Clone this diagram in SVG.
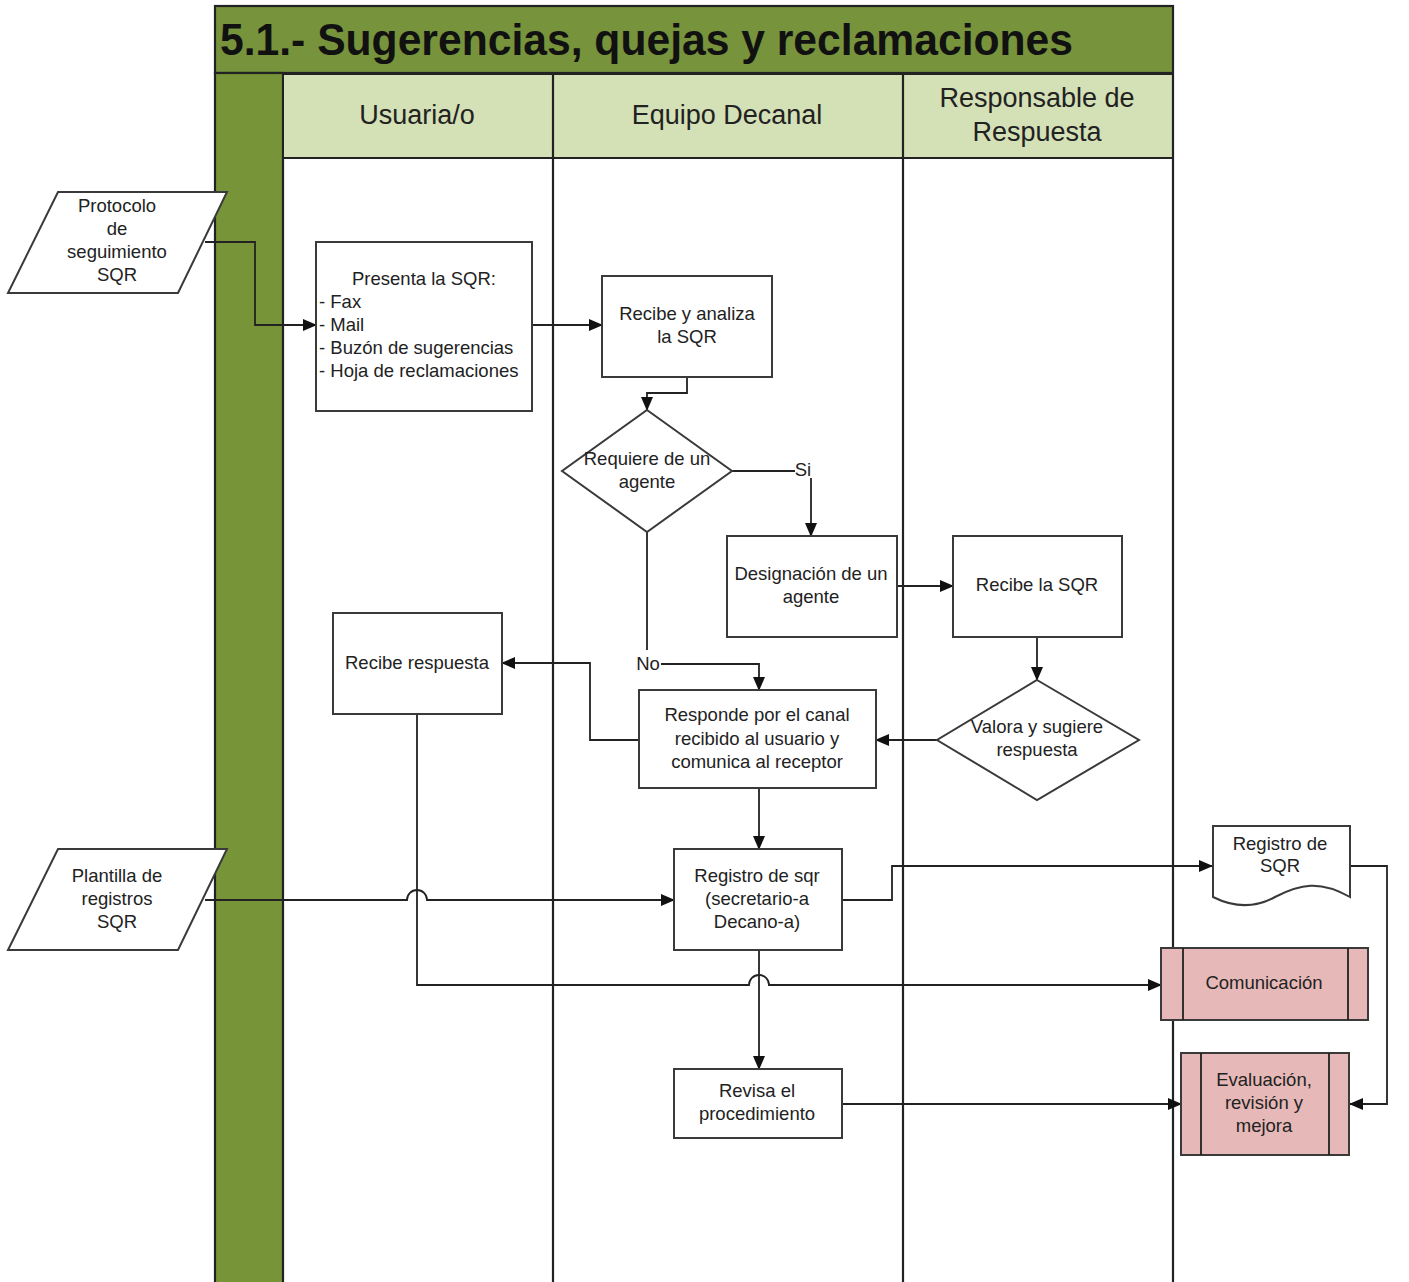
<svg xmlns="http://www.w3.org/2000/svg" width="1409" height="1282" viewBox="0 0 1409 1282">
<style>
  .t{font-family:"Liberation Sans",Arial,sans-serif;font-size:18.5px;fill:#222;text-anchor:middle}
  .tl{font-family:"Liberation Sans",Arial,sans-serif;font-size:18.5px;fill:#222}
  .h{font-family:"Liberation Sans",Arial,sans-serif;font-size:27px;fill:#222;text-anchor:middle}
  .title{font-family:"Liberation Sans",Arial,sans-serif;font-size:45px;font-weight:bold;fill:#111}
  .box{fill:#fff;stroke:#3a3a3a;stroke-width:2}
  .pp{fill:#e6b9b8;stroke:#3a3a3a;stroke-width:2}
  .lane{stroke:#222;stroke-width:2.2;fill:none}
  .c{fill:none;stroke:#222;stroke-width:1.8}
  .ca{fill:none;stroke:#222;stroke-width:1.8;marker-end:url(#arr)}
</style>
<defs>
  <marker id="arr" markerUnits="userSpaceOnUse" markerWidth="14" markerHeight="12" refX="13" refY="6" orient="auto">
    <path d="M0,0 L14,6 L0,12 Z" fill="#111"/>
  </marker>
</defs>
<rect width="1409" height="1282" fill="#fff"/>

<g id="pool">
  <rect x="215" y="6" width="958" height="67" fill="#77933c" stroke="#222" stroke-width="2.2"/>
  <text class="title" x="220" y="55" textLength="853" lengthAdjust="spacingAndGlyphs">5.1.- Sugerencias, quejas y reclamaciones</text>
  <rect x="215" y="73" width="68" height="1215" fill="#779538" stroke="#222" stroke-width="2.2"/>
  <rect x="283" y="74" width="890" height="84" fill="#d4e0b5" stroke="#222" stroke-width="2"/>
  <path class="lane" d="M553,74 V1282 M903,74 V1282 M1173,74 V1282 M283,158 H1173"/>
  <text class="h" x="417" y="124">Usuaria/o</text>
  <text class="h" x="727" y="124">Equipo Decanal</text>
  <text class="h" x="1037" y="107">Responsable de</text>
  <text class="h" x="1037" y="141">Respuesta</text>
</g>

<g id="connectors">
  <path class="ca" d="M205,242 H255 V325 H316"/>
  <path class="ca" d="M532,325 H602"/>
  <path class="ca" d="M687,377 V393 H647 V410"/>
  <path class="c" d="M732,471 H795"/>
  <path class="ca" d="M811,478 V536"/>
  <path class="ca" d="M897,586 H953"/>
  <path class="ca" d="M1037,637 V680"/>
  <path class="ca" d="M937,740 H876"/>
  <path class="c" d="M647,532 V650"/>
  <path class="ca" d="M661,664 H759 V690"/>
  <path class="ca" d="M639,740 H590 V663 H502"/>
  <path class="ca" d="M759,788 V849"/>
  <path class="ca" d="M205,900 H407 A10,10 0 0 1 427,900 H674"/>
  <path class="ca" d="M417,714 V985 H749 A10,10 0 0 1 769,985 H1161"/>
  <path class="ca" d="M842,900 H892 V866 H1212"/>
  <path class="ca" d="M1350,866 H1387 V1104 H1350"/>
  <path class="ca" d="M759,950 V1069"/>
  <path class="ca" d="M842,1104 H1181"/>
</g>

<g id="n-protocolo">
  <polygon class="box" points="8,293 178,293 227,192 58,192"/>
  <text class="t" x="117" y="212">Protocolo</text>
  <text class="t" x="117" y="235">de</text>
  <text class="t" x="117" y="258">seguimiento</text>
  <text class="t" x="117" y="281">SQR</text>
</g>
<g id="n-presenta">
  <rect class="box" x="316" y="242" width="216" height="169"/>
  <text class="t" x="424" y="285">Presenta la SQR:</text>
  <text class="tl" x="319" y="308">- Fax</text>
  <text class="tl" x="319" y="331">- Mail</text>
  <text class="tl" x="319" y="354">- Buzón de sugerencias</text>
  <text class="tl" x="319" y="377">- Hoja de reclamaciones</text>
</g>
<g id="n-recibe-analiza">
  <rect class="box" x="602" y="276" width="170" height="101"/>
  <text class="t" x="687" y="320">Recibe y analiza</text>
  <text class="t" x="687" y="343">la SQR</text>
</g>
<g id="n-requiere">
  <polygon class="box" points="647,410 732,471 647,532 562,471"/>
  <text class="t" x="647" y="465">Requiere de un</text>
  <text class="t" x="647" y="488">agente</text>
</g>
<g id="l-si"><text class="t" x="803" y="476">Si</text></g>
<g id="n-designacion">
  <rect class="box" x="727" y="536" width="170" height="101"/>
  <text class="t" x="811" y="580">Designación de un</text>
  <text class="t" x="811" y="603">agente</text>
</g>
<g id="n-recibe-sqr">
  <rect class="box" x="953" y="536" width="169" height="101"/>
  <text class="t" x="1037" y="591">Recibe la SQR</text>
</g>
<g id="n-valora">
  <polygon class="box" points="1037,680 1139,740 1037,800 937,740"/>
  <text class="t" x="1037" y="733">Valora y sugiere</text>
  <text class="t" x="1037" y="756">respuesta</text>
</g>
<g id="n-responde">
  <rect class="box" x="639" y="690" width="237" height="98"/>
  <text class="t" x="757" y="721">Responde por el canal</text>
  <text class="t" x="757" y="745">recibido al usuario y</text>
  <text class="t" x="757" y="768">comunica al receptor</text>
</g>
<g id="l-no"><text class="t" x="648" y="670">No</text></g>
<g id="n-recibe-respuesta">
  <rect class="box" x="333" y="613" width="169" height="101"/>
  <text class="t" x="417" y="669">Recibe respuesta</text>
</g>
<g id="n-plantilla">
  <polygon class="box" points="8,950 178,950 227,849 58,849"/>
  <text class="t" x="117" y="882">Plantilla de</text>
  <text class="t" x="117" y="905">registros</text>
  <text class="t" x="117" y="928">SQR</text>
</g>
<g id="n-registro">
  <rect class="box" x="674" y="849" width="168" height="101"/>
  <text class="t" x="757" y="882">Registro de sqr</text>
  <text class="t" x="757" y="905">(secretario-a</text>
  <text class="t" x="757" y="928">Decano-a)</text>
</g>
<g id="n-registro-doc">
  <path class="box" d="M1213,826 H1350 V897 C1320,880 1300,884 1275,897 C1255,908 1235,908 1213,897 Z"/>
  <text class="t" x="1280" y="850">Registro de</text>
  <text class="t" x="1280" y="872">SQR</text>
</g>
<g id="n-comunicacion">
  <rect class="pp" x="1161" y="948" width="207" height="72"/>
  <path class="c" d="M1183,948 V1020 M1348,948 V1020" stroke="#3a3a3a"/>
  <text class="t" x="1264" y="989">Comunicación</text>
</g>
<g id="n-revisa">
  <rect class="box" x="674" y="1069" width="168" height="69"/>
  <text class="t" x="757" y="1097">Revisa el</text>
  <text class="t" x="757" y="1120">procedimiento</text>
</g>
<g id="n-evaluacion">
  <rect class="pp" x="1181" y="1053" width="168" height="102"/>
  <path class="c" d="M1201,1053 V1155 M1329,1053 V1155" stroke="#3a3a3a"/>
  <text class="t" x="1264" y="1086">Evaluación,</text>
  <text class="t" x="1264" y="1109">revisión y</text>
  <text class="t" x="1264" y="1132">mejora</text>
</g>
</svg>
